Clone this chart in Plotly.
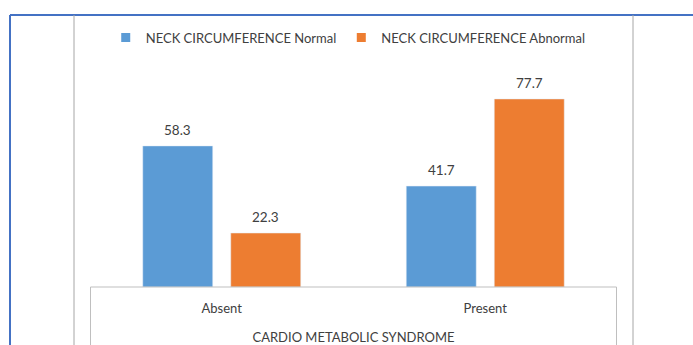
import plotly.graph_objects as go

categories = ["Absent", "Present"]
normal_values = [58.3, 41.7]
abnormal_values = [22.3, 77.7]
series_names = ["NECK CIRCUMFERENCE Normal", "NECK CIRCUMFERENCE Abnormal"]
series_colors = ["#5B9BD5", "#ED7D31"]
x_title = "CARDIO METABOLIC SYNDROME"

W, H = 693, 345
ML, MR, MT, MB = 90, 76, 69, 58
PW = W - ML - MR
PH = H - MT - MB


def px(x):
    return (x - ML) / PW


def py(y):
    return (H - MB - y) / PH


FONT = "Lato, Calibri, sans-serif"
TXT = "#404040"
FS = 13
BARGAP = 0.332
GROUPGAP = 0.205
slot = PW / len(categories) * (1 - BARGAP) / 2

fig = go.Figure()
annotations = []
for i, (name, vals, col) in enumerate(zip(series_names, [normal_values, abnormal_values], series_colors)):
    fig.add_bar(name=name, x=categories, y=vals, marker_color=col, showlegend=False,
                hovertemplate="%{x}: %{y}<extra>" + name + "</extra>")
    # legend entry with a small square swatch
    fig.add_scatter(name=name, x=[None], y=[None], mode="markers",
                    marker=dict(symbol="square", size=9, color=col), showlegend=True)
    shift = (i - 0.5) * slot
    for c, v in zip(categories, vals):
        annotations.append(dict(x=c, y=v, xref="x", yref="y", text=f"{v:.1f}", showarrow=False,
                                xshift=shift, yshift=16, yanchor="middle",
                                font=dict(size=FS + 0.5, color=TXT, family=FONT)))

shapes = []
# outer blue frame
shapes.append(dict(type="line", xref="paper", yref="paper", x0=px(10), y0=py(15), x1=px(W + 5), y1=py(15),
                   line=dict(color="#4472C4", width=2)))
shapes.append(dict(type="line", xref="paper", yref="paper", x0=px(10), y0=py(15), x1=px(10), y1=py(H + 5),
                   line=dict(color="#4472C4", width=2)))
# gray verticals
for xv in (74, 633):
    shapes.append(dict(type="line", xref="paper", yref="paper", x0=px(xv), y0=py(15), x1=px(xv), y1=py(H + 5),
                       line=dict(color="#A6A6A6", width=1)))
# axis box
shapes.append(dict(type="path", xref="paper", yref="paper",
                   path=f"M{px(90.5)},{py(H + 5)} L{px(90.5)},{py(287)} L{px(616.5)},{py(287)} L{px(616.5)},{py(H + 5)}",
                   line=dict(color="#BFBFBF", width=1)))

fig.update_layout(
    width=W, height=H,
    margin=dict(l=ML, r=MR, t=MT, b=MB, autoexpand=False),
    paper_bgcolor="white", plot_bgcolor="white",
    barmode="group", bargap=BARGAP, bargroupgap=GROUPGAP,
    font=dict(family=FONT, size=FS, color=TXT),
    shapes=shapes,
    annotations=annotations,
    showlegend=True,
    legend=dict(orientation="h", x=0.49, xanchor="center", y=py(37.5), yanchor="middle",
                font=dict(size=FS, color=TXT, family=FONT), itemwidth=30, bgcolor="rgba(0,0,0,0)"),
    xaxis=dict(showline=False, showgrid=False, ticks="", tickfont=dict(size=FS, color=TXT),
               ticklabelstandoff=12, automargin=False,
               title=dict(text=x_title, font=dict(size=FS, color=TXT), standoff=17)),
    yaxis=dict(visible=False, range=[0, PH / 2.42], showgrid=False, automargin=False),
)

fig.write_html("out.html", config={"displayModeBar": False},
               post_script="document.body.style.margin='0';document.body.style.overflow='hidden';")
